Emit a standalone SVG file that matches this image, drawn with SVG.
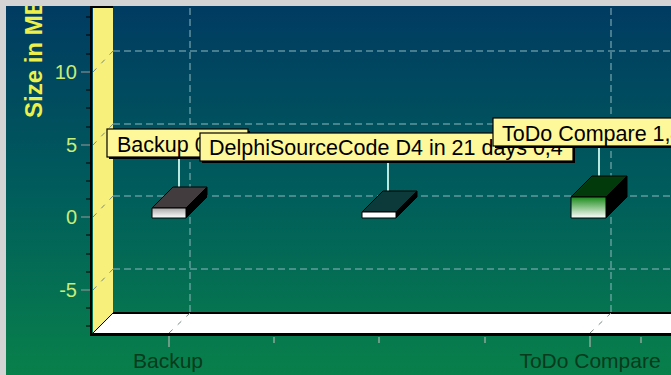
<svg xmlns="http://www.w3.org/2000/svg" width="671" height="375" viewBox="0 0 671 375">
<defs>
<linearGradient id="bg" x1="0" y1="0" x2="0" y2="1">
<stop offset="0" stop-color="#003a62"/>
<stop offset="0.5" stop-color="#005c5c"/>
<stop offset="1" stop-color="#08804a"/>
</linearGradient>
<linearGradient id="faceGray" x1="0" y1="0" x2="0" y2="1">
<stop offset="0" stop-color="#a8a8a8"/>
<stop offset="1" stop-color="#ffffff"/>
</linearGradient>
<linearGradient id="faceGreen" x1="0" y1="0" x2="0" y2="1">
<stop offset="0" stop-color="#1a8a1a"/>
<stop offset="1" stop-color="#ffffff"/>
</linearGradient>
</defs>
<style>
.grid{stroke:#8fb8bc;stroke-width:1;stroke-dasharray:7 4;fill:none}
.minor{stroke:#000;stroke-width:1}
.major{stroke:#9a9a9a;stroke-width:1}
.ytick{font-family:"Liberation Sans",Arial,sans-serif;font-size:20px;fill:#c8ec78;text-anchor:end;dominant-baseline:central}
.cat{font-family:"Liberation Sans",Arial,sans-serif;font-size:21px;fill:#083a1c;text-anchor:middle}
.lbl{font-family:"Liberation Sans",Arial,sans-serif;font-size:21.5px;fill:#000}
.box{fill:#fff89a;stroke:#000;stroke-width:1.2}
.shadow{fill:#000}
.lead{stroke:#b8e8e0;stroke-width:2}
.edge{stroke:#000;stroke-width:1;stroke-linejoin:round}
</style>

<rect x="0" y="0" width="671" height="375" fill="url(#bg)"/>

<g id="axis-title">
<text x="42" y="118" transform="rotate(-90 42 118)" font-family="'Liberation Sans',Arial,sans-serif" font-size="24" font-weight="bold" fill="#eef04a">Size in MB</text>
</g>

<g id="walls">
<polygon points="93,6 113,6 113,313 93,333" fill="#f7f07a"/>
<polygon points="93,333 113,313 671,313 671,333" fill="#ffffff"/>
<line x1="113" y1="313" x2="671" y2="313" stroke="#000" stroke-width="2"/>
<line x1="93" y1="333" x2="113" y2="313" stroke="#000" stroke-width="1"/>
<line x1="90" y1="334.5" x2="671" y2="334.5" stroke="#000" stroke-width="3"/>
<line x1="91" y1="6" x2="91" y2="336" stroke="#000" stroke-width="2"/>
<line x1="91" y1="7" x2="113" y2="7" stroke="#000" stroke-width="2"/>
</g>

<g id="gridlines">
<line class="grid" x1="113" y1="51" x2="671" y2="51"/>
<line class="grid" x1="113" y1="124" x2="671" y2="124"/>
<line class="grid" x1="113" y1="196" x2="671" y2="196"/>
<line class="grid" x1="113" y1="269" x2="671" y2="269"/>
<line class="grid" x1="190" y1="8" x2="190" y2="313"/>
<line class="grid" x1="611" y1="8" x2="611" y2="313"/>
<g stroke="#7a8a80" stroke-width="1" stroke-dasharray="5 7">
<line x1="93" y1="72" x2="113" y2="51"/>
<line x1="93" y1="145" x2="113" y2="124"/>
<line x1="93" y1="217" x2="113" y2="196"/>
<line x1="93" y1="290" x2="113" y2="269"/>
<line x1="169" y1="333" x2="190" y2="313"/>
<line x1="590" y1="333" x2="611" y2="313"/>
</g>
</g>

<g id="y-axis">
<g class="minor">
<line x1="86" y1="17" x2="90" y2="17"/><line x1="86" y1="35" x2="90" y2="35"/><line x1="86" y1="54" x2="90" y2="54"/>
<line x1="86" y1="90" x2="90" y2="90"/><line x1="86" y1="108" x2="90" y2="108"/><line x1="86" y1="127" x2="90" y2="127"/>
<line x1="86" y1="163" x2="90" y2="163"/><line x1="86" y1="181" x2="90" y2="181"/><line x1="86" y1="199" x2="90" y2="199"/>
<line x1="86" y1="235" x2="90" y2="235"/><line x1="86" y1="254" x2="90" y2="254"/><line x1="86" y1="272" x2="90" y2="272"/>
<line x1="86" y1="308" x2="90" y2="308"/><line x1="86" y1="326" x2="90" y2="326"/>
</g>
<g class="major">
<line x1="81" y1="72" x2="90" y2="72"/><line x1="81" y1="145" x2="90" y2="145"/>
<line x1="81" y1="217" x2="90" y2="217"/><line x1="81" y1="290" x2="90" y2="290"/>
</g>
<text class="ytick" x="77" y="72">10</text>
<text class="ytick" x="77" y="145">5</text>
<text class="ytick" x="77" y="217">0</text>
<text class="ytick" x="77" y="290">-5</text>
</g>

<g id="x-axis">
<g stroke="#8aa898" stroke-width="1.5">
<line x1="169" y1="336" x2="169" y2="347"/>
<line x1="274" y1="337" x2="274" y2="343"/>
<line x1="379" y1="337" x2="379" y2="343"/>
<line x1="485" y1="337" x2="485" y2="343"/>
<line x1="590" y1="336" x2="590" y2="347"/>
<line x1="641" y1="337" x2="641" y2="343"/>
</g>
<text class="cat" x="168" y="368">Backup</text>
<text class="cat" x="590" y="368">ToDo Compare</text>
</g>

<g id="connectors">
<line class="lead" x1="179" y1="158" x2="179" y2="198"/>
<line class="lead" x1="388" y1="162" x2="388" y2="202"/>
<line class="lead" x1="599" y1="147" x2="599" y2="187"/>
</g>

<g id="bar-backup">
<polygon class="edge" points="152,208 186,208 207,187 173,187" fill="#423c3e"/>
<polygon class="edge" points="186,208 207,187 207,197 186,218" fill="#000"/>
<rect class="edge" x="152" y="208" width="34" height="10" fill="url(#faceGray)"/>
</g>

<g id="bar-delphi">
<polygon class="edge" points="362,212 396,212 417,191 383,191" fill="#0c3a3a"/>
<polygon class="edge" points="396,212 417,191 417,197 396,218" fill="#000"/>
<rect class="edge" x="362" y="212" width="34" height="6" fill="#ffffff"/>
</g>

<g id="bar-todo">
<polygon class="edge" points="571,197 606,197 627,176 592,176" fill="#033a0c"/>
<polygon class="edge" points="606,197 627,176 627,197 606,218" fill="#000"/>
<rect class="edge" x="571" y="197" width="35" height="21" fill="url(#faceGreen)"/>
</g>

<g id="label-backup">
<rect class="shadow" x="109" y="131" width="141" height="28"/>
<rect class="box" x="107" y="129" width="141" height="28"/>
<text class="lbl" x="117" y="152">Backup 0</text>
</g>

<g id="label-delphi">
<rect class="shadow" x="202" y="135" width="373" height="28"/>
<rect class="box" x="200" y="133" width="373" height="28"/>
<text class="lbl" x="209" y="155">DelphiSourceCode D4 in 21 days 0,4</text>
</g>

<g id="label-todo">
<rect class="shadow" x="495" y="120" width="190" height="28"/>
<rect class="box" x="493" y="118" width="190" height="28"/>
<text class="lbl" x="502" y="141">ToDo Compare 1,4</text>
</g>

<g id="frame">
<rect x="0" y="0" width="671" height="6" fill="#d4d4d4"/>
<rect x="0" y="0" width="6" height="375" fill="#d4d4d4"/>
</g>
</svg>
